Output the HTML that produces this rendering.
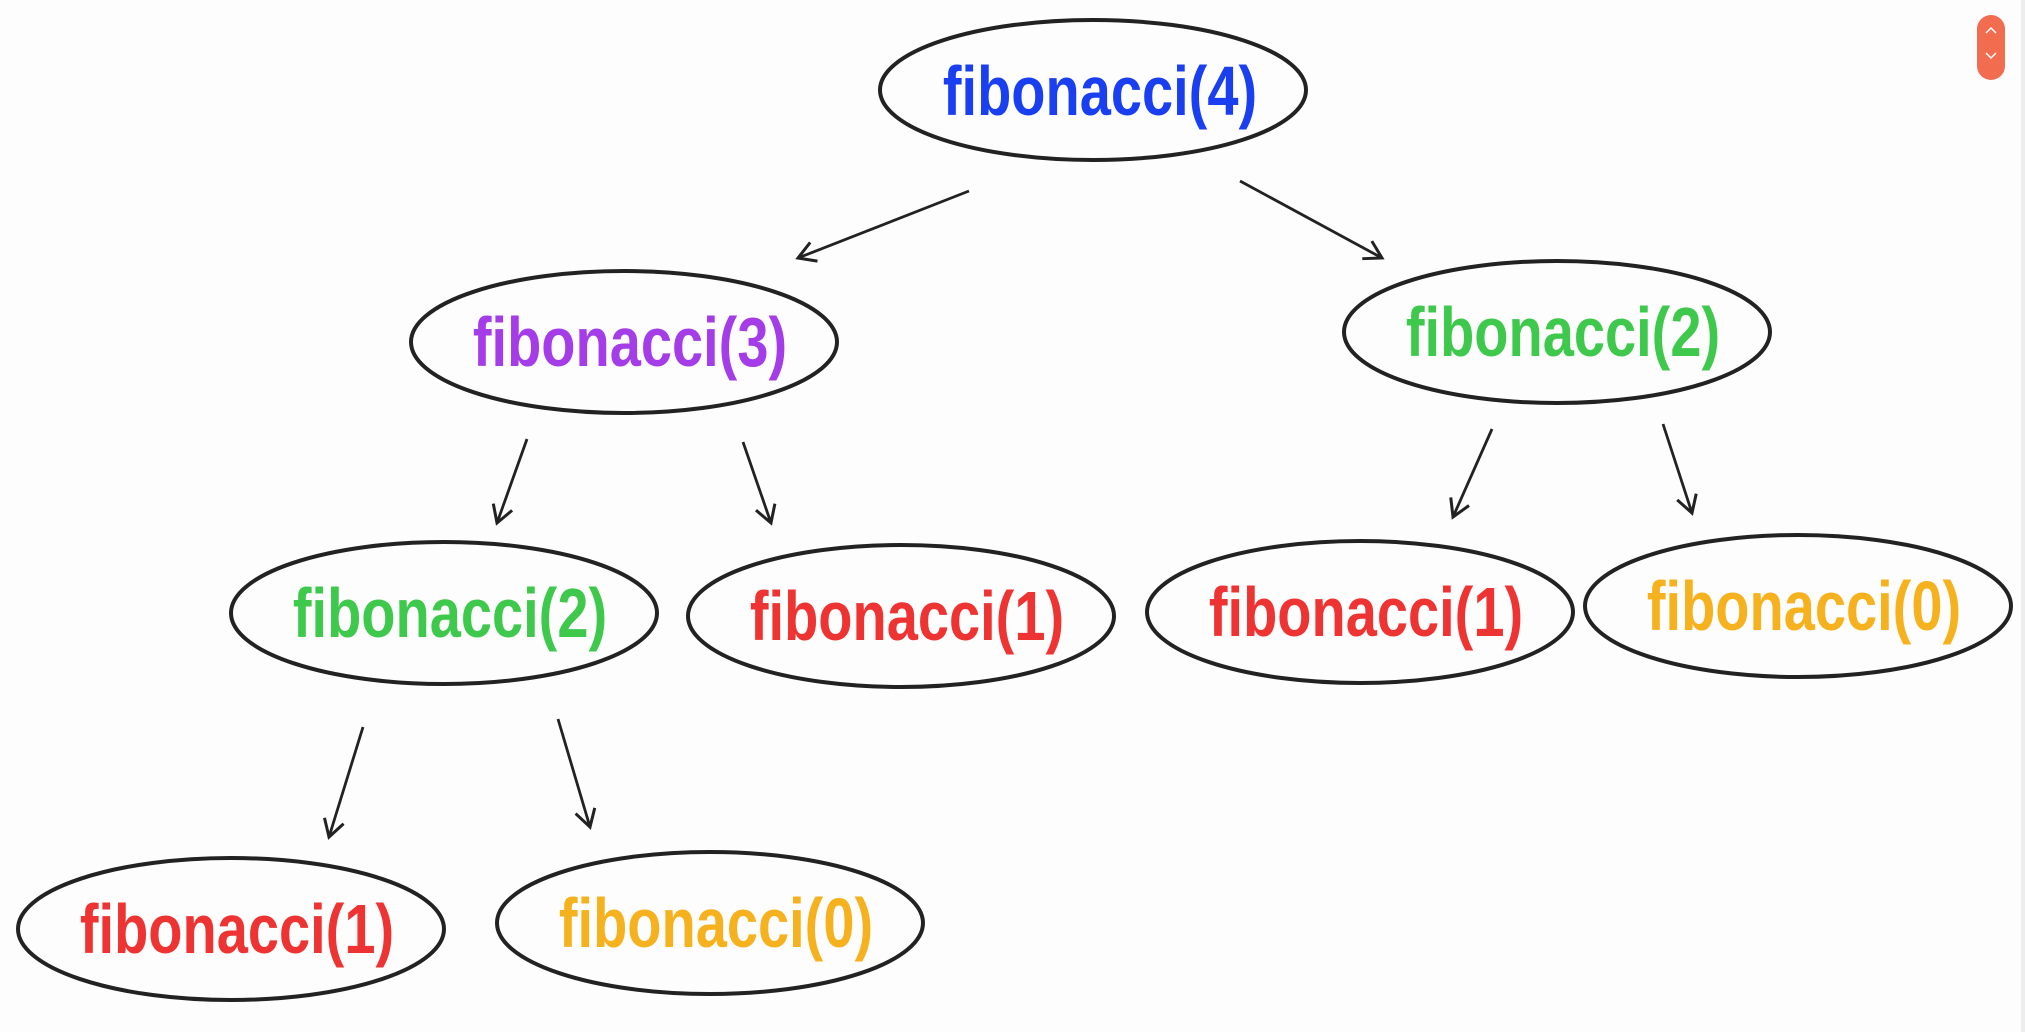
<!DOCTYPE html>
<html><head><meta charset="utf-8"><style>
html,body{margin:0;padding:0;background:#fdfdfd;}
body{width:2025px;height:1032px;overflow:hidden;position:relative;}
svg{position:absolute;left:0;top:0;}
text{font-family:"Liberation Sans",sans-serif;font-weight:bold;font-size:56px;text-anchor:middle;dominant-baseline:central;}
</style></head><body>
<svg width="2025" height="1032" viewBox="0 0 2025 1032">
<defs><marker id="a" markerWidth="24" markerHeight="24" refX="20" refY="12" orient="auto" markerUnits="userSpaceOnUse"><path d="M3,2 L20,12 L3,22" fill="none" stroke="#222" stroke-width="3"/></marker></defs>
<g fill="none" stroke="#222" stroke-width="4">
<ellipse cx="1093" cy="90" rx="213" ry="70"/>
<ellipse cx="624" cy="342" rx="213" ry="71"/>
<ellipse cx="1557" cy="332" rx="213" ry="71"/>
<ellipse cx="444" cy="613" rx="213" ry="71"/>
<ellipse cx="901" cy="616" rx="213" ry="71"/>
<ellipse cx="1360" cy="612" rx="213" ry="71"/>
<ellipse cx="1798" cy="606" rx="213" ry="71"/>
<ellipse cx="231" cy="929" rx="213" ry="71"/>
<ellipse cx="710" cy="923" rx="213" ry="71"/>
</g>
<g fill="none" stroke="#222" stroke-width="2.8" marker-end="url(#a)">
<path d="M969,191 L798,258"/>
<path d="M1240,181 L1382,258"/>
<path d="M527,439 L497,523"/>
<path d="M743,442 L771,523"/>
<path d="M1492,429 L1453,517"/>
<path d="M1663,424 L1692,513"/>
<path d="M363,727 L329,837"/>
<path d="M558,719 L590,827"/>
</g>
<g transform="translate(1100,92) scale(1,1.25)"><text fill="#1a3ff0">fibonacci(4)</text></g>
<g transform="translate(630,343) scale(1,1.25)"><text fill="#a43ce8">fibonacci(3)</text></g>
<g transform="translate(1563,333) scale(1,1.25)"><text fill="#3ec84c">fibonacci(2)</text></g>
<g transform="translate(450,614) scale(1,1.25)"><text fill="#3ec84c">fibonacci(2)</text></g>
<g transform="translate(907,617) scale(1,1.25)"><text fill="#ee3333">fibonacci(1)</text></g>
<g transform="translate(1366,613) scale(1,1.25)"><text fill="#ee3333">fibonacci(1)</text></g>
<g transform="translate(1804,607) scale(1,1.25)"><text fill="#f5b21e">fibonacci(0)</text></g>
<g transform="translate(237,930) scale(1,1.25)"><text fill="#ee3333">fibonacci(1)</text></g>
<g transform="translate(716,924) scale(1,1.25)"><text fill="#f5b21e">fibonacci(0)</text></g>
<rect x="1977" y="15" width="28" height="65" rx="14" fill="#f26c50"/>
<path d="M1986,33 L1991,28 L1996,33 M1986,53 L1991,58 L1996,53" fill="none" stroke="#fff" stroke-width="1.5"/>
<rect x="2021" y="0" width="4" height="1032" fill="#ededed"/>
</svg>
</body></html>
